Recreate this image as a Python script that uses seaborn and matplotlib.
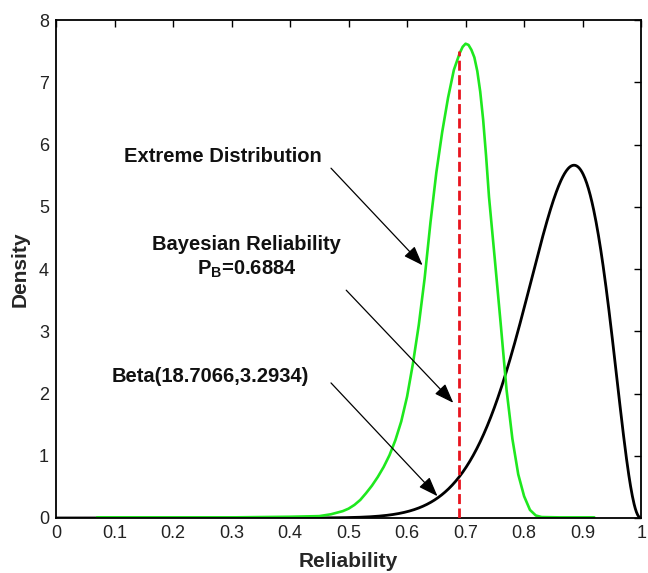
import math
import numpy as np
import pandas as pd
import matplotlib
matplotlib.use("Agg")
import matplotlib.pyplot as plt
import seaborn as sns

# Beta prior parameters and Bayesian reliability estimate
beta_a = 18.7066
beta_b = 3.2934
p_bayes = 0.6884
p_line_top = 7.5

# Extreme-value density, sampled along the reliability axis
extreme_x = [0.07, 0.20, 0.30, 0.40, 0.45, 0.47, 0.49, 0.50, 0.51, 0.52,
             0.53, 0.54, 0.55, 0.56, 0.57, 0.58, 0.59, 0.60, 0.61, 0.62,
             0.63, 0.64, 0.65, 0.66, 0.67, 0.68, 0.69, 0.695, 0.70, 0.705,
             0.71, 0.715, 0.72, 0.725, 0.73, 0.735, 0.74, 0.75, 0.76, 0.77,
             0.78, 0.79, 0.80, 0.81, 0.82, 0.83, 0.86, 0.92]
extreme_y = [0.01, 0.01, 0.01, 0.02, 0.03, 0.06, 0.11, 0.15, 0.21, 0.29,
             0.40, 0.52, 0.66, 0.82, 1.01, 1.25, 1.55, 1.95, 2.48, 3.10,
             3.85, 4.75, 5.55, 6.20, 6.75, 7.20, 7.47, 7.57, 7.62, 7.60,
             7.52, 7.40, 7.18, 6.85, 6.40, 5.82, 5.16, 4.15, 3.12, 2.06,
             1.27, 0.70, 0.35, 0.13, 0.04, 0.015, 0.01, 0.01]

x_ticks = [0, 0.1, 0.2, 0.3, 0.4, 0.5, 0.6, 0.7, 0.8, 0.9, 1]
x_tick_labels = ["0", "0.1", "0.2", "0.3", "0.4", "0.5", "0.6", "0.7", "0.8", "0.9", "1"]
y_ticks = [0, 1, 2, 3, 4, 5, 6, 7, 8]


def beta_pdf(x, a, b):
    log_norm = math.lgamma(a + b) - math.lgamma(a) - math.lgamma(b)
    x = np.clip(x, 1e-12, 1 - 1e-12)
    return np.exp(log_norm + (a - 1) * np.log(x) + (b - 1) * np.log(1 - x))


grid = np.linspace(0, 1, 1001)
beta_df = pd.DataFrame({"Reliability": grid, "Density": beta_pdf(grid, beta_a, beta_b)})
extreme_df = pd.DataFrame({"Reliability": extreme_x, "Density": extreme_y})

sns.set_theme(style="white")
plt.rcParams["font.family"] = ["Liberation Sans", "DejaVu Sans"]
plt.rcParams["mathtext.default"] = "regular"

fig = plt.figure(figsize=(6.48, 5.73), dpi=100)
ax = fig.add_axes([0.0864, 0.096, 0.903, 0.869])
ax.set_facecolor("white")

sns.lineplot(data=beta_df, x="Reliability", y="Density", ax=ax,
             color="black", linewidth=2.0, sort=False)
sns.lineplot(data=extreme_df, x="Reliability", y="Density", ax=ax,
             color="#1ee81e", linewidth=1.9, sort=False)
ax.vlines(p_bayes, 0, p_line_top, colors="#e8141e", linestyles=(0, (3.6, 1.6)),
          linewidth=2.0, zorder=4)

ax.set_xlim(0, 1)
ax.set_ylim(0, 8)
ax.set_xticks(x_ticks)
ax.set_xticklabels(x_tick_labels)
ax.set_yticks(y_ticks)
ax.tick_params(direction="in", length=5, width=1.0, top=True, right=True,
               labelsize=13, colors="black", pad=5)
ax.tick_params(labelcolor="#222222")
for side in ax.spines.values():
    side.set_color("black")
    side.set_linewidth(1.3)

ax.set_xlabel("Reliability", fontsize=15, fontweight="bold", labelpad=7)
ax.set_ylabel("Density", fontsize=15, fontweight="bold", labelpad=7)

# Annotations with arrows pointing at the curves
text_kw = dict(fontsize=14.5, color="#111111", fontweight="bold")
ax.text(0.117, 5.80, "Extreme Distribution", ha="left", va="center", **text_kw)
ax.text(0.326, 4.39, "Bayesian Reliability", ha="center", va="center", **text_kw)
ax.text(0.326, 4.00, r"P$_{B}$=0.6884", ha="center", va="center", **text_kw)
ax.text(0.095, 2.27, "Beta(18.7066,3.2934)", ha="left", va="center", **text_kw)

arrow_kw = dict(arrowstyle="-|>,head_length=0.6,head_width=0.22", color="black",
                lw=0.9, mutation_scale=20, shrinkA=0, shrinkB=0)
ax.annotate("", xy=(0.6265, 4.06), xytext=(0.470, 5.62), arrowprops=arrow_kw)
ax.annotate("", xy=(0.679, 1.85), xytext=(0.496, 3.66), arrowprops=arrow_kw)
ax.annotate("", xy=(0.652, 0.35), xytext=(0.470, 2.17), arrowprops=arrow_kw)

fig.savefig("out.png", dpi=100, facecolor="white")
